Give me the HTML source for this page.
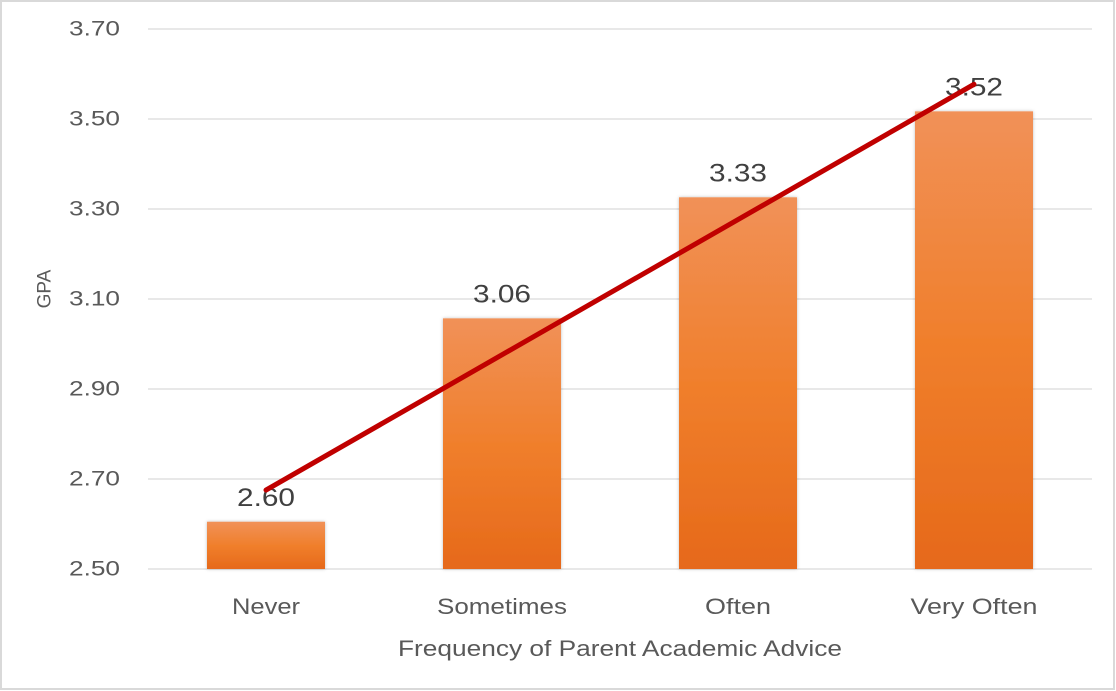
<!DOCTYPE html>
<html><head><meta charset="utf-8"><style>
html,body{margin:0;padding:0;background:#fff;}
svg{display:block;font-family:"Liberation Sans",sans-serif;}
</style></head><body>
<svg width="1116" height="691" viewBox="0 0 1116 691">
<defs>
<linearGradient id="barGrad" x1="0" y1="0" x2="0" y2="1">
<stop offset="0" stop-color="#f19158"/>
<stop offset="0.5" stop-color="#f07f2c"/>
<stop offset="1" stop-color="#e6691a"/>
</linearGradient>
<filter id="sh" x="-10%" y="-10%" width="120%" height="120%"><feDropShadow dx="0" dy="0" stdDeviation="1.5" flood-color="#000" flood-opacity="0.25"/></filter>
</defs>
<rect x="1" y="1" width="1113" height="688" fill="#fff" stroke="#d9d9d9" stroke-width="2"/>
<g id="grid"></g><g id="yticks"></g><g id="bars"></g><g id="labels"></g><g id="xticks"></g><g id="trend"></g>
<text x="45" y="289" transform="rotate(-90 45 289)" text-anchor="middle" dominant-baseline="central" font-size="19" fill="#595959">GPA</text>
<text x="620" y="656" text-anchor="middle" font-size="22" fill="#595959" textLength="444" lengthAdjust="spacingAndGlyphs">Frequency of Parent Academic Advice</text>
</svg>
<script>
const categories = ["Never", "Sometimes", "Often", "Very Often"];
const gpaValues = [2.605, 3.057, 3.326, 3.517];
const valueLabels = ["2.60", "3.06", "3.33", "3.52"];
const yTicks = [2.50, 2.70, 2.90, 3.10, 3.30, 3.50, 3.70];
const yTickLabels = ["2.50", "2.70", "2.90", "3.10", "3.30", "3.50", "3.70"];

const NS = "http://www.w3.org/2000/svg";
const plotL = 148, plotR = 1092, yMin = 2.5, yMax = 3.7, pxTop = 29, pxBot = 569;
const y = v => pxBot - (v - yMin) / (yMax - yMin) * (pxBot - pxTop);
const band = (plotR - plotL) / categories.length;
const xc = i => plotL + band * (i + 0.5);
const barW = band * 0.5;
function mk(tag, attrs, parent, text){
  const e = document.createElementNS(NS, tag);
  for (const k in attrs) e.setAttribute(k, attrs[k]);
  if (text !== undefined) e.textContent = text;
  document.getElementById(parent).appendChild(e);
  return e;
}
yTicks.forEach((t, i) => {
  const g = mk("line", {x1: plotL, x2: plotR, y1: y(t), y2: y(t), stroke: "#d9d9d9", "stroke-width": 1.3}, "grid");
  
  
  const l = mk("text", {x: 120, y: y(t), "text-anchor": "end", "dominant-baseline": "central", "font-size": 21, fill: "#595959", textLength: 51, lengthAdjust: "spacingAndGlyphs"}, "yticks", yTickLabels[i]);
  
  
});
const tickW = [68, 130, 66, 127];
categories.forEach((c, i) => {
  const b = mk("rect", {x: xc(i) - barW / 2, y: y(gpaValues[i]), width: barW, height: y(yMin) - y(gpaValues[i]), fill: "url(#barGrad)", filter: "url(#sh)"}, "bars");
  
  
  const v = mk("text", {x: xc(i), y: y(gpaValues[i]) - 16, "text-anchor": "middle", "font-size": 25, fill: "#404040", textLength: 58, lengthAdjust: "spacingAndGlyphs"}, "labels", valueLabels[i]);
  
  
  const t = mk("text", {x: xc(i), y: 614, "text-anchor": "middle", "font-size": 22, fill: "#595959", textLength: tickW[i], lengthAdjust: "spacingAndGlyphs"}, "xticks", c);
  
  
});
// linear trendline (least squares)
const n = gpaValues.length;
const xs = gpaValues.map((_, i) => i + 1);
const mx = xs.reduce((a, b) => a + b) / n, my = gpaValues.reduce((a, b) => a + b) / n;
let sxy = 0, sxx = 0;
xs.forEach((xv, i) => { sxy += (xv - mx) * (gpaValues[i] - my); sxx += (xv - mx) ** 2; });
const slope = sxy / sxx, icpt = my - slope * mx;
const tl = mk("line", {x1: xc(0), y1: y(icpt + slope * 1), x2: xc(n - 1), y2: y(icpt + slope * n), stroke: "#c00000", "stroke-width": 5, "stroke-linecap": "round"}, "trend");


</script>
</body></html>
